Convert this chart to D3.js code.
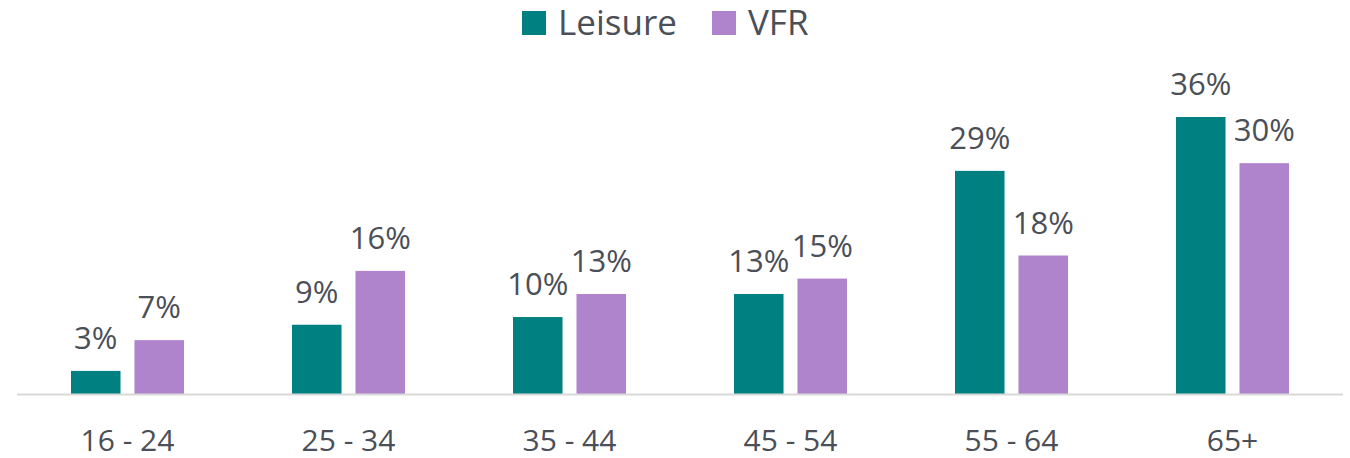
<!DOCTYPE html>
<html>
<head>
<meta charset="utf-8">
<script src="https://cdn.jsdelivr.net/npm/d3@7"></script>
<style>
  body { margin: 0; background: #fff; }
  text { font-family: "Open Sans", sans-serif; fill: #4b4f57; }
</style>
</head>
<body>
<svg id="chart" width="1350" height="458"></svg>
<script>
const categories = ["16 - 24", "25 - 34", "35 - 44", "45 - 54", "55 - 64", "65+"];
const seriesNames = ["Leisure", "VFR"];
const leisure = [3, 9, 10, 13, 29, 36];
const vfr = [7, 16, 13, 15, 18, 30];
const colors = ["#008080", "#b084cc"];

const width = 1350,
  height = 458,
  margin = { top: 0, right: 7, bottom: 64, left: 17 };

const svg = d3.select("#chart");

const x = d3.scaleBand()
  .domain(categories)
  .range([margin.left, width - margin.right])
  .paddingInner(0)
  .paddingOuter(0);

const xInner = d3.scaleBand()
  .domain(seriesNames)
  .range([0, 113])
  .paddingInner(0.22);

const baseY = height - margin.bottom;
const y = d3.scaleLinear()
  .domain([0, 36])
  .range([baseY, baseY - 277]);

const rows = categories.map((c, i) => ({
  category: c,
  values: [
    { key: "Leisure", value: leisure[i] },
    { key: "VFR", value: vfr[i] }
  ]
}));

const groups = svg.selectAll("g.group")
  .data(rows)
  .join("g")
    .attr("class", "group")
    .attr("transform", d => `translate(${ x(d.category) + (x.bandwidth() - 113) / 2 },0)`);

groups.selectAll("rect")
  .data(d => d.values)
  .join("rect")
    .attr("x", d => xInner(d.key))
    .attr("width", xInner.bandwidth())
    .attr("y", d => y(d.value))
    .attr("height", d => y(0) - y(d.value))
    .attr("fill", (d, i) => colors[i]);

groups.selectAll("text.value")
  .data(d => d.values)
  .join("text")
    .attr("class", "value")
    .attr("x", d => xInner(d.key) + xInner.bandwidth() / 2)
    .attr("y", d => y(d.value) - 22)
    .attr("text-anchor", "middle")
    .attr("font-size", "31px")
    .text(d => d.value + "%");

// baseline
svg.append("line")
  .attr("x1", margin.left)
  .attr("x2", width - margin.right)
  .attr("y1", baseY + 0.5)
  .attr("y2", baseY + 0.5)
  .attr("stroke", "#d9d9d9")
  .attr("stroke-width", 2);

const xAxis = d3.axisBottom(x).tickSize(0).tickPadding(0);
const axisG = svg.append("g")
  .attr("transform", `translate(0,${ baseY })`)
  .call(xAxis);
axisG.select(".domain").remove();
axisG.selectAll("text")
  .attr("font-size", "30px")
  .attr("font-family", "Open Sans, sans-serif")
  .attr("fill", "#4b4f57")
  .attr("dy", null)
  .attr("y", 57);

// legend
const legendX = [522, 712];
const legend = svg.selectAll("g.legend")
  .data(seriesNames)
  .join("g")
    .attr("class", "legend")
    .attr("transform", (d, i) => `translate(${ legendX[i] },11)`);
legend.append("rect")
  .attr("width", 24)
  .attr("height", 24)
  .attr("fill", (d, i) => colors[i]);
legend.append("text")
  .attr("x", 36)
  .attr("y", 24)
  .attr("font-size", "35px")
  .text(d => d);
</script>
</body>
</html>
